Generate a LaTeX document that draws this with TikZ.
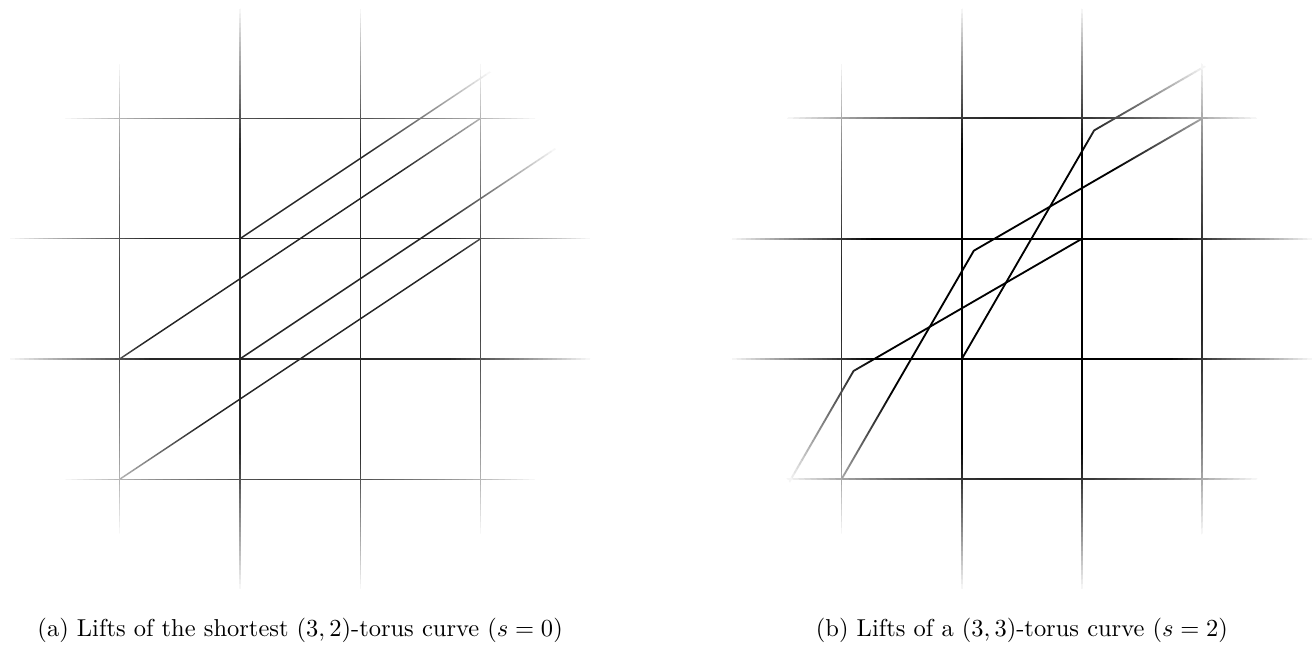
\documentclass[tikz,border=0pt]{standalone}
\usepackage{amsmath}

\begin{document}
\begin{tikzpicture}[
    x=1.727cm, y=1.727cm,
    font=\normalsize,
    % --- lattice lines ---
    gridA/.style={black!85, line width=0.6pt},
    gridB/.style={black, line width=0.75pt},
    % --- lifted curves ---
    liftA/.style={black!85, line width=0.6pt, line join=round},
    liftB/.style={black, line width=0.75pt, line join=round},
    % --- white rings that fade the lattice out towards the rim ---
    rim/.style={fill=white, draw=none, even odd rule, opacity=#1},
    caption/.style={anchor=base, inner sep=0pt},
  ]
  \useasboundingbox (-1.995,-2.377) rectangle (8.936,2.984);

  % ---- (a) shortest (3,2) curve -----------------------------------------
  \begin{scope}
    \clip (0.5,0.5) circle (2.5);
    \foreach \k in {-1,...,2} {
      \draw[gridA] (\k,-2) -- (\k,3);
      \draw[gridA] (-2,\k) -- (3,\k);
    }
    \foreach \p in {(0,1),(-1,0),(0,0),(-1,-1)}
      \draw[liftA] \p -- ++(3,2);
  \end{scope}
  \foreach \i in {1,...,30} {
    \pgfmathsetmacro\rin{1.35+1.15*(\i-1)/30}
    \pgfmathsetmacro\op{1/(31-\i)}
    \path[rim=\op] (0.5,0.5) circle (\rin) circle (2.55);
  }
  \node[caption] (capA) at (0.5,-2.31)
        {(a) Lifts of the shortest $(3,2)$-torus curve ($s=0$)};

  % ---- (b) (3,3) curve with s=2 -----------------------------------------
  \begin{scope}[shift={(6,0)}]
    \begin{scope}
      \clip (0.5,0.5) circle (2.5);
      \foreach \k in {-1,...,2} {
        \draw[gridB] (\k,-2) -- (\k,3);
        \draw[gridB] (-2,\k) -- (3,\k);
      }
      \foreach \k in {0,-1,-2}
        \draw[liftB] (\k,\k) -- ++(1.1,1.9) -- ++(1.9,1.1);
    \end{scope}
    \foreach \i in {1,...,30} {
      \pgfmathsetmacro\rin{1.35+1.15*(\i-1)/30}
      \pgfmathsetmacro\op{1/(31-\i)}
      \path[rim=\op] (0.5,0.5) circle (\rin) circle (2.55);
    }
    \node[caption] (capB) at (0.5,-2.31)
          {(b) Lifts of a $(3,3)$-torus curve ($s=2$)};
  \end{scope}

\end{tikzpicture}
\end{document}
